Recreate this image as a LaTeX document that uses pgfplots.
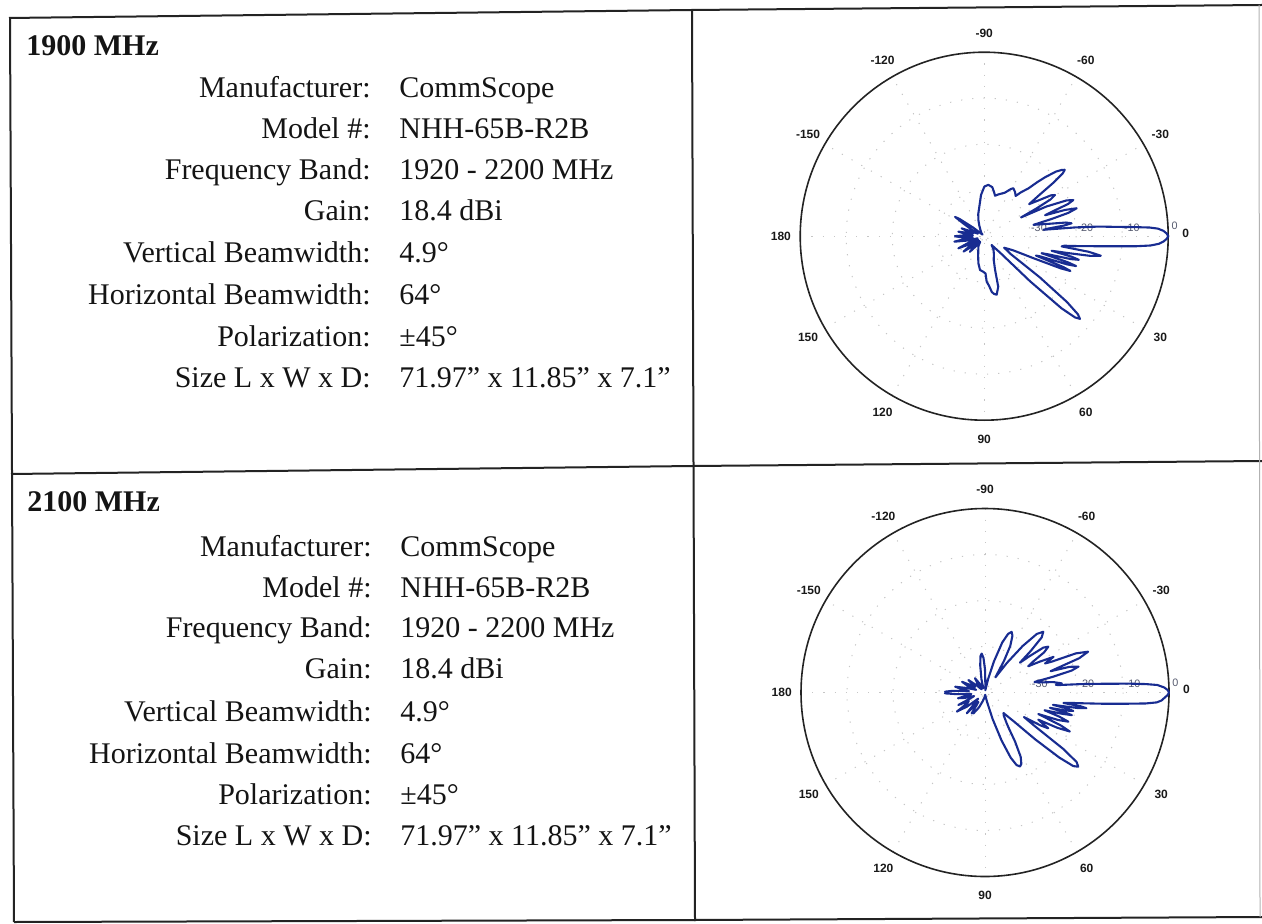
\documentclass[border=0pt]{standalone}
\usepackage{fontspec}
\setmainfont{Liberation Serif}
\newfontfamily\lsans{Liberation Sans}
\usepackage{pgfplots}
\pgfplotsset{compat=1.18}
\usepackage{pgfplotstable}

\definecolor{pat}{RGB}{24,44,145}
\definecolor{frame}{RGB}{35,35,35}
\definecolor{ringlab}{RGB}{85,90,110}

% Pattern at 1900 MHz: angle (deg, clockwise from 0) and relative level (dB)
\pgfplotstableread{
a db
-180 -33.5
-178 -35.5
-176 -37.5
-173 -36
-170 -34.3
-167 -37.5
-163 -36
-160.8 -34.8
-158 -38.5
-153 -37
-149 -35
-146.5 -32.4
-145 -33.5
-142 -37
-138 -39.5
-130 -39
-122 -38.5
-115 -37.5
-110 -36.3
-105 -35
-99.4 -33.5
-94.4 -31.0
-89.8 -29.2
-85.4 -28.8
-80.6 -29.2
-77 -30.3
-75 -30.9
-72 -30.5
-69.5 -30.2
-64.5 -29.5
-60.5 -28.2
-58.7 -27.8
-55 -28.3
-52 -28.9
-50 -27.5
-47.3 -25.9
-45.5 -23.5
-44.1 -21.6
-42 -19
-40.5 -17.8
-39.5 -17.3
-38.6 -18.2
-37.7 -21
-36.8 -25
-35.5 -28
-33.5 -26
-31.5 -23
-30.2 -22.2
-29 -23.5
-28 -27
-27 -31
-25.5 -25
-23.5 -20.5
-22.1 -19.1
-21 -20.5
-20 -24
-19 -26
-18 -21.5
-16.8 -19.0
-15.5 -21
-14.3 -25
-13 -29
-11 -26
-9.5 -22
-8.4 -20.8
-7.6 -22.5
-6.8 -26
-6.2 -27
-5.5 -20
-4.8 -15
-4.0 -11
-3.5 -7.5
-3.0 -4
-2.5 -2.2
-1.7 -1
-0.8 -0.3
0 0
0.8 -0.3
1.7 -1
2.5 -2
3.2 -3.8
3.8 -7
4.4 -11.5
5.2 -16
6.0 -19.4
6.8 -22.5
7.5 -23
8.5 -17
9.5 -14.3
10.5 -16.5
11.3 -21
12.2 -25
13.2 -20.5
14 -18.8
14.8 -20.5
15.8 -25.5
16.5 -27
17.3 -21
18 -19.0
18.8 -21
19.8 -27
20.5 -28
21.3 -21.5
22 -19.8
22.8 -22
24 -28
26 -33
30 -35
34 -33
36.5 -25
38.5 -17
39.8 -13.5
40.8 -12.5
41.8 -13.5
43 -17
44.5 -26
46 -35
50 -37.5
55 -36.5
62 -35.5
68 -34.5
72 -32.4
74.5 -28.6
78 -27
80.5 -27.3
82.3 -27.8
84.5 -29.2
86.9 -30.1
88 -31.9
92 -32.3
97.1 -32.6
102.2 -34
107 -35.5
113 -36.7
120 -37.5
126 -38.5
130 -37
132.6 -35.4
134.5 -37
137 -38.5
141 -36
143.4 -34.4
146 -36.5
149 -38.5
152 -36
154.9 -33.8
157.5 -36.5
162 -38.5
166 -36
169.6 -33.4
172 -36
175 -37.5
177.5 -35
180 -33.5
}\patA

% Pattern at 2100 MHz
\pgfplotstableread{
a db
-180 -31.8
-178.8 -31.3
-177 -33
-175 -36.5
-172 -35
-169 -33.4
-166 -36
-163 -38
-159 -36
-155 -34.5
-151 -37.5
-147 -37
-143 -35.5
-140 -37.5
-136 -39
-130 -37.5
-125 -36.2
-120 -38
-112 -39
-105 -37
-100 -34
-97 -32
-94.9 -31.5
-92.5 -32.5
-90 -35
-87 -38.5
-82 -39.5
-77 -37
-74 -33
-71 -28.5
-68.5 -26.3
-66.3 -25.6
-64.2 -26.3
-61.5 -28.5
-59 -32
-57 -35
-55.5 -36
-53.5 -32
-51 -27
-48.5 -23
-46.2 -21.7
-44.2 -22.8
-42.3 -26.5
-40.5 -30
-39.2 -27.5
-37.6 -24
-35.9 -23
-34.2 -24.5
-32.8 -27.5
-31.3 -29
-29.5 -26.5
-27.5 -23.2
-25.8 -25.5
-24.8 -24
-23.3 -18.5
-21.6 -15.9
-20 -18.2
-18.8 -23
-18 -25
-16.9 -20.8
-15.5 -18.9
-14.2 -20.6
-13 -25
-12 -29
-10.5 -28
-8.7 -25
-6.8 -23.2
-6.2 -24.5
-5.8 -24
-5.0 -19
-4.2 -14
-3.5 -8.5
-3.0 -5
-2.5 -2.5
-1.6 -1
-0.8 -0.3
0 0
0.8 -0.3
1.6 -0.9
2.6 -1.6
3.3 -2.6
3.9 -5
4.6 -9.5
5.4 -14
6.2 -18.2
7.0 -21.5
7.6 -22.8
8.2 -19
8.8 -17.7
9.5 -19.5
10.3 -25
11 -22
11.8 -20.4
12.6 -22
13.3 -25.5
14 -22
14.6 -20.5
15.4 -22.5
16.6 -26.5
18 -23
19.3 -20.8
20.6 -23
22 -27.5
23.5 -22
24.7 -19.7
26 -22.5
27 -27
28.5 -25.5
29.5 -24.2
30.7 -26
32.2 -30
34 -27
35.8 -19
37.2 -15
38.5 -14.1
39.8 -15
41.2 -18.5
43 -25
45 -31
48 -34
51 -33.5
54.9 -31.8
56.5 -30.5
58.5 -27.5
61 -24
63 -22.6
64.7 -22.2
66.5 -22.8
68.5 -24.8
71 -29
74 -34
78 -38
85 -39.5
95 -39
105 -38
112 -36.5
119 -34.8
121 -35.5
122.6 -34.6
125 -37.5
128 -36.5
131.3 -34
134 -37
138 -38
142 -35
145.9 -32.6
148.5 -35.5
152 -36
155 -33.6
158 -36.5
162 -37.5
165 -35.5
168 -34
171 -36.5
174 -37
176.5 -34
178.8 -31.3
180 -31.8
}\patB

\pgfplotsset{
  polarpat/.style={
    width=184pt, height=184pt, scale only axis,
    xmin=-40, xmax=40, ymin=-40, ymax=40,
    axis lines=none, ticks=none, y dir=reverse, clip=false,
    anchor=center,
  },
}
\tikzset{
  anglab/.style={font=\lsans\bfseries\fontsize{6pt}{7pt}\selectfont, text=black!90, inner sep=0pt},
  rlab/.style={font=\lsans\fontsize{5.4pt}{6pt}\selectfont, text=ringlab, inner sep=0pt},
  grd/.style={gray!45, line width=0.5pt, dash pattern=on 0.6pt off 5pt},
}

\newcommand{\polardecor}{%
  \draw[grd] (axis cs:0,0) circle[radius=10];
  \draw[grd] (axis cs:0,0) circle[radius=20];
  \draw[grd] (axis cs:0,0) circle[radius=30];
  \draw[grd] (axis cs:-40,0) -- (axis cs:40,0);
  \draw[grd] (axis cs:0,-40) -- (axis cs:0,40);
  \draw[grd] (axis cs:34.64,20) -- (axis cs:-34.64,-20);
  \draw[grd] (axis cs:20,34.64) -- (axis cs:-20,-34.64);
  \draw[grd] (axis cs:-20,34.64) -- (axis cs:20,-34.64);
  \draw[grd] (axis cs:-34.64,20) -- (axis cs:34.64,-20);
  \draw[frame, line width=0.8pt] (axis cs:0,0) circle[radius=40];
  \node[anglab] at (axis cs:0,-44.2) {-90};
  \node[anglab] at (axis cs:-22.1,-38.3) {-120};
  \node[anglab] at (axis cs:22.1,-38.3) {-60};
  \node[anglab] at (axis cs:-38.3,-22.1) {-150};
  \node[anglab] at (axis cs:38.3,-22.1) {-30};
  \node[anglab] at (axis cs:-44.2,0) {180};
  \node[anglab] at (axis cs:43.8,-0.6) {0};
  \node[anglab] at (axis cs:38.3,22.1) {30};
  \node[anglab] at (axis cs:-38.3,22.1) {150};
  \node[anglab] at (axis cs:22.1,38.3) {60};
  \node[anglab] at (axis cs:-22.1,38.3) {120};
  \node[anglab] at (axis cs:0,44.2) {90};
  \node[rlab] at (axis cs:11.9,-1.8) {-30};
  \node[rlab] at (axis cs:22.0,-1.8) {-20};
  \node[rlab] at (axis cs:32.1,-1.8) {-10};
  \node[rlab] at (axis cs:41.4,-2.2) {0};
}

\begin{document}
\begin{tikzpicture}
\path[use as bounding box] (0,0) rectangle (631pt,-462pt);
\begin{scope}[x=0.5pt,y=-0.5pt]
  % table frame
  \draw[frame, line width=1pt] (9,18) -- (692,10) -- (1262,5);
  \draw[frame, line width=1pt] (10,18) -- (14,922);
  \draw[frame, line width=1pt] (11,474) -- (693,466) -- (1262,461);
  \draw[frame, line width=1pt] (14,922) -- (694,920) -- (1262,917);
  \draw[frame, line width=1pt] (692,10) -- (695,921);
  \draw[gray!60, line width=0.5pt] (1259,5) -- (1260,917);
  \begin{scope}[every node/.style={inner sep=0pt, font=\fontsize{15pt}{18pt}\selectfont, text=black!92}]
    % row 1
    \node[anchor=base west] at (26,56) {\bfseries 1900 MHz};
    \node[anchor=base east] at (371,98) {Manufacturer:};
    \node[anchor=base east] at (371,139) {Model \#:};
    \node[anchor=base east] at (371,180) {Frequency Band:};
    \node[anchor=base east] at (371,221) {Gain:};
    \node[anchor=base east] at (371,263) {Vertical Beamwidth:};
    \node[anchor=base east] at (371,305) {Horizontal Beamwidth:};
    \node[anchor=base east] at (371,347) {Polarization:};
    \node[anchor=base east] at (371,388) {Size L x W x D:};
    \node[anchor=base west] at (399,98) {CommScope};
    \node[anchor=base west] at (399,139) {NHH-65B-R2B};
    \node[anchor=base west] at (399,180) {1920 - 2200 MHz};
    \node[anchor=base west] at (399,221) {18.4 dBi};
    \node[anchor=base west] at (399,263) {4.9°};
    \node[anchor=base west] at (399,305) {64°};
    \node[anchor=base west] at (399,347) {±45°};
    \node[anchor=base west] at (399,388) {71.97” x 11.85” x 7.1”};
    % row 2
    \node[anchor=base west] at (27,511) {\bfseries 2100 MHz};
    \node[anchor=base east] at (372,556) {Manufacturer:};
    \node[anchor=base east] at (372,597) {Model \#:};
    \node[anchor=base east] at (372,637) {Frequency Band:};
    \node[anchor=base east] at (372,678) {Gain:};
    \node[anchor=base east] at (372,721) {Vertical Beamwidth:};
    \node[anchor=base east] at (372,763) {Horizontal Beamwidth:};
    \node[anchor=base east] at (372,804) {Polarization:};
    \node[anchor=base east] at (372,845) {Size L x W x D:};
    \node[anchor=base west] at (400,556) {CommScope};
    \node[anchor=base west] at (400,597) {NHH-65B-R2B};
    \node[anchor=base west] at (400,637) {1920 - 2200 MHz};
    \node[anchor=base west] at (400,678) {18.4 dBi};
    \node[anchor=base west] at (400,721) {4.9°};
    \node[anchor=base west] at (400,763) {64°};
    \node[anchor=base west] at (400,804) {±45°};
    \node[anchor=base west] at (400,845) {71.97” x 11.85” x 7.1”};
  \end{scope}
\end{scope}

\begin{axis}[polarpat, at={(492.1pt,-118.1pt)}]
  \polardecor
  \addplot[pat, line width=1.05pt, line join=round, mark=none, data cs=polar]
    table[x=a, y expr=\thisrow{db}+40] {\patA};
\end{axis}

\begin{axis}[polarpat, at={(492.5pt,-346.25pt)}]
  \polardecor
  \addplot[pat, line width=1.05pt, line join=round, mark=none, data cs=polar]
    table[x=a, y expr=\thisrow{db}+40] {\patB};
\end{axis}
\end{tikzpicture}
\end{document}
